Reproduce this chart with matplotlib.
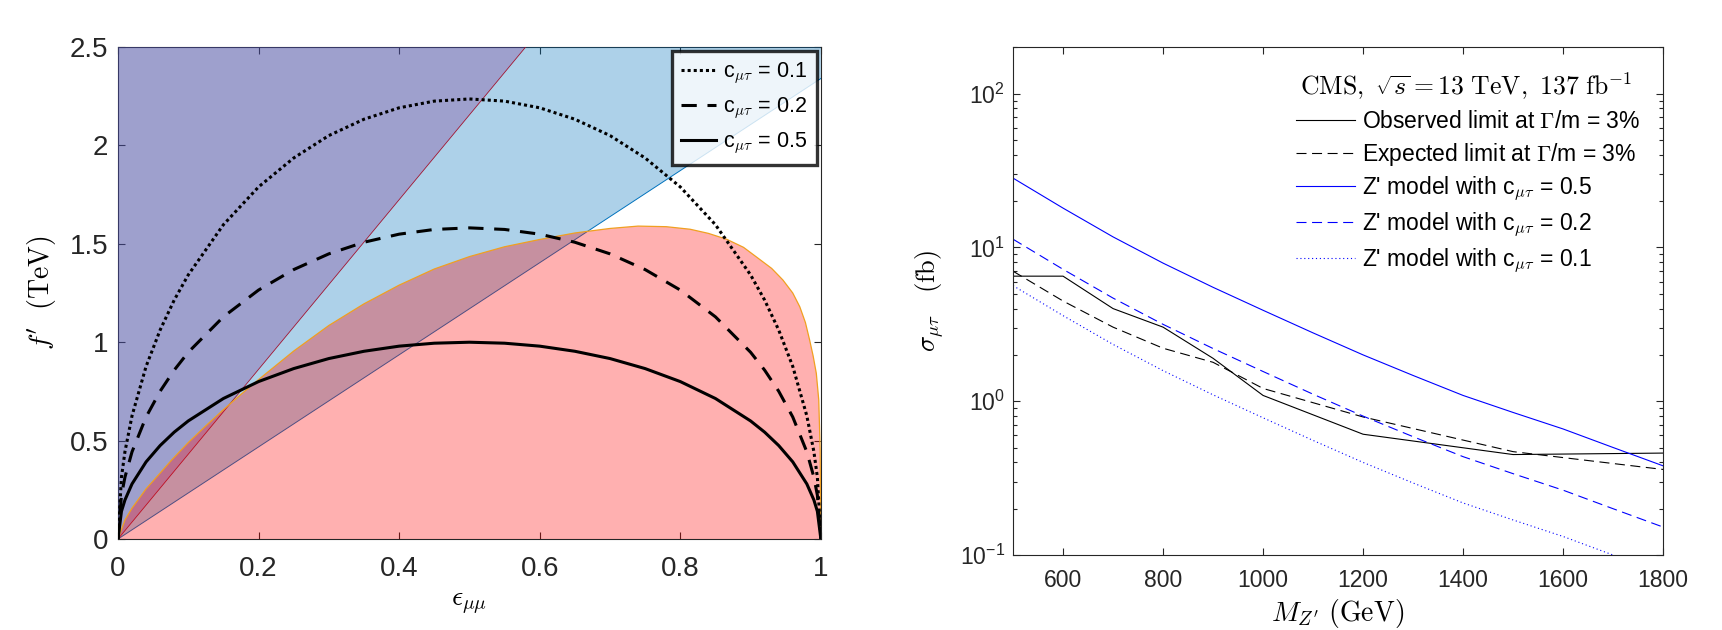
import matplotlib
matplotlib.use("Agg")
import matplotlib.pyplot as plt

plt.rcParams['font.family'] = ['Liberation Sans', 'DejaVu Sans']
plt.rcParams['mathtext.fontset'] = 'cm'

# ---- left panel: f' vs eps_mumu ----
eps = [0, 0.005, 0.01, 0.02, 0.04, 0.06, 0.08, 0.1, 0.15, 0.2, 0.25, 0.3, 0.35, 0.4, 0.45, 0.5,
       0.55, 0.6, 0.65, 0.7, 0.75, 0.8, 0.85, 0.9, 0.92, 0.94, 0.96, 0.98, 0.99, 0.995, 1.0]
f_c01 = [0, 0.315, 0.445, 0.626, 0.877, 1.062, 1.214, 1.342, 1.597, 1.789, 1.936, 2.050, 2.133, 2.191, 2.225, 2.236,
         2.225, 2.191, 2.133, 2.050, 1.936, 1.789, 1.597, 1.342, 1.214, 1.062, 0.877, 0.626, 0.445, 0.315, 0]
f_c02 = [0, 0.223, 0.315, 0.443, 0.620, 0.751, 0.858, 0.949, 1.129, 1.265, 1.369, 1.449, 1.508, 1.549, 1.573, 1.581,
         1.573, 1.549, 1.508, 1.449, 1.369, 1.265, 1.129, 0.949, 0.858, 0.751, 0.620, 0.443, 0.315, 0.223, 0]
f_c05 = [0, 0.141, 0.199, 0.280, 0.392, 0.475, 0.543, 0.600, 0.714, 0.800, 0.866, 0.917, 0.954, 0.980, 0.995, 1.000,
         0.995, 0.980, 0.954, 0.917, 0.866, 0.800, 0.714, 0.600, 0.543, 0.475, 0.392, 0.280, 0.199, 0.141, 0]

# boundary lines of the excluded wedges
shallow_eps = [0, 1.0]
shallow_f = [0, 2.34]
steep_eps = [0, 0.58]
steep_f = [0, 2.5]

# upper boundary of the red region
pink_eps = [0, 0.01, 0.02, 0.04, 0.06, 0.076, 0.1, 0.125, 0.15, 0.175, 0.2, 0.25, 0.3, 0.35, 0.4,
            0.45, 0.5, 0.55, 0.6, 0.65, 0.7, 0.74, 0.78, 0.814, 0.84, 0.866, 0.89, 0.908, 0.93,
            0.946, 0.96, 0.970, 0.978, 0.984, 0.989, 0.9935, 0.997, 0.999, 1.0]
pink_f = [0, 0.097, 0.157, 0.255, 0.335, 0.40, 0.49, 0.575, 0.657, 0.735, 0.81, 0.955, 1.085, 1.195, 1.29,
          1.372, 1.435, 1.485, 1.522, 1.555, 1.578, 1.59, 1.587, 1.574, 1.553, 1.523, 1.482, 1.434, 1.375,
          1.316, 1.25, 1.18, 1.10, 1.011, 0.93, 0.842, 0.706, 0.45, 0]

# ---- right panel: sigma vs M_Z' ----
mass = [500, 600, 700, 800, 900, 1000, 1100, 1200, 1300, 1400, 1500, 1600, 1700, 1800]
sig_c05 = [28.2, 18.0, 11.7, 7.9, 5.5, 3.9, 2.78, 2.0, 1.47, 1.09, 0.845, 0.66, 0.50, 0.38]
sig_c02 = [11.3, 7.2, 4.68, 3.16, 2.2, 1.56, 1.11, 0.80, 0.588, 0.436, 0.338, 0.264, 0.20, 0.152]
sig_c01 = [5.64, 3.6, 2.34, 1.58, 1.1, 0.78, 0.556, 0.40, 0.294, 0.218, 0.169, 0.132, 0.10, 0.076]

obs_mass = [500, 600, 700, 800, 900, 1000, 1200, 1500, 1800]
obs_lim = [6.5, 6.5, 4.0, 3.03, 1.9, 1.09, 0.61, 0.45, 0.46]
exp_mass = [500, 600, 700, 800, 900, 1000, 1200, 1500, 1800]
exp_lim = [7.0, 4.48, 3.03, 2.21, 1.79, 1.21, 0.79, 0.47, 0.36]

fig = plt.figure(figsize=(17.22, 6.3), dpi=100)

# ================= left =================
ax = fig.add_axes([0.0685, 0.1444, 0.4082, 0.781])

ax.fill(shallow_eps + [1.0, 0], shallow_f + [2.5, 2.5], facecolor=(0.0, 0.447, 0.741, 0.32),
        edgecolor='none', zorder=2.6)
ax.plot(shallow_eps, shallow_f, color='#0072BD', lw=0.7, zorder=2.6)
ax.fill(steep_eps + [0], steep_f + [2.5], facecolor=(0.494, 0.184, 0.557, 0.30),
        edgecolor='none', zorder=2.6)
ax.plot(steep_eps, steep_f, color='#A2142F', lw=0.6, zorder=2.6)
ax.fill(pink_eps, pink_f, facecolor=(1.0, 0.0, 0.0, 0.31), edgecolor='none', zorder=2.7)
ax.plot(pink_eps, pink_f, color='#F0A020', lw=0.9, zorder=2.7)

ax.plot(eps, f_c01, color='black', lw=2.2, linestyle=(0, (1, 1)), label=r'c$_{\mu\tau}$ = 0.1', zorder=3)
ax.plot(eps, f_c02, color='black', lw=2.2, linestyle=(0, (5, 3.5)), label=r'c$_{\mu\tau}$ = 0.2', zorder=3)
ax.plot(eps, f_c05, color='black', lw=2.2, linestyle='-', label=r'c$_{\mu\tau}$ = 0.5', zorder=3)

ax.set_xlim(0, 1)
ax.set_ylim(0, 2.5)
ax.set_xticks([0, 0.2, 0.4, 0.6, 0.8, 1.0], ['0', '0.2', '0.4', '0.6', '0.8', '1'])
ax.set_yticks([0, 0.5, 1.0, 1.5, 2.0, 2.5], ['0', '0.5', '1', '1.5', '2', '2.5'])
ax.tick_params(direction='in', top=True, right=True, length=5, width=0.8, labelsize=20,
               colors='#262626')
ax.tick_params(axis='x', pad=12)
ax.tick_params(axis='y', pad=7)
for s in ax.spines.values():
    s.set_color('#262626')
    s.set_linewidth(0.8)
ax.set_xlabel(r'$\epsilon_{\mu\mu}$', fontsize=20, labelpad=6)
ax.set_ylabel(r"$f'\ \ \mathrm{(TeV)}$", fontsize=20, labelpad=8)

leg = ax.legend(loc='upper right', fontsize=15.5, frameon=True, fancybox=False,
                handlelength=1.6, handletextpad=0.35, borderpad=0.42, borderaxespad=0.2,
                labelspacing=0.42)
leg.get_frame().set_edgecolor('black')
leg.get_frame().set_linewidth(2.4)
leg.set_zorder(5)

# ================= right =================
ax2 = fig.add_axes([0.5883, 0.119, 0.3775, 0.806])
ax2.plot(obs_mass, obs_lim, color='black', lw=0.8, label=r'Observed limit at $\Gamma$/m = 3%')
ax2.plot(exp_mass, exp_lim, color='black', lw=0.8, linestyle=(0, (9, 5)),
         label=r'Expected limit at $\Gamma$/m = 3%')
ax2.plot(mass, sig_c05, color='#0000FF', lw=0.8, label=r"Z' model with c$_{\mu\tau}$ = 0.5")
ax2.plot(mass, sig_c02, color='#0000FF', lw=0.8, linestyle=(0, (9, 5)),
         label=r"Z' model with c$_{\mu\tau}$ = 0.2")
ax2.plot(mass, sig_c01, color='#0000FF', lw=0.8, linestyle=(0, (1, 2.5)),
         label=r"Z' model with c$_{\mu\tau}$ = 0.1")

ax2.set_yscale('log')
ax2.set_xlim(500, 1800)
ax2.set_ylim(0.1, 200)
ax2.set_xticks([600, 800, 1000, 1200, 1400, 1600, 1800])
ax2.set_yticks([0.1, 1, 10, 100], [r'$\mathregular{10^{-1}}$', r'$\mathregular{10^{0}}$',
                                   r'$\mathregular{10^{1}}$', r'$\mathregular{10^{2}}$'])
ax2.tick_params(which='both', direction='in', top=True, right=True, width=0.8, colors='#262626')
ax2.tick_params(which='major', length=5, labelsize=16.5)
ax2.tick_params(which='minor', length=3)
ax2.tick_params(axis='x', which='major', pad=10)
ax2.tick_params(axis='y', which='major', pad=6)
for s in ax2.spines.values():
    s.set_color('#262626')
    s.set_linewidth(0.8)
ax2.set_xlabel(r"$M_{Z'}\ \mathrm{(GeV)}$", fontsize=20, labelpad=4)
ax2.set_ylabel(r"$\sigma_{\mu\tau}\quad \mathrm{(fb)}$", fontsize=19, labelpad=10)

ax2.text(0.4415, 0.922, r'$\mathrm{CMS,}\ \sqrt{s} = 13\ \mathrm{TeV,}\ 137\ \mathrm{fb}^{-1}$',
         transform=ax2.transAxes, fontsize=18.5, va='center', ha='left')
ax2.legend(loc='upper left', bbox_to_anchor=(0.4354, 0.876), frameon=False, fontsize=16.5,
           handlelength=2.58, handletextpad=0.3, borderpad=0, borderaxespad=0, labelspacing=0.32)

fig.savefig('out.png', dpi=100)
